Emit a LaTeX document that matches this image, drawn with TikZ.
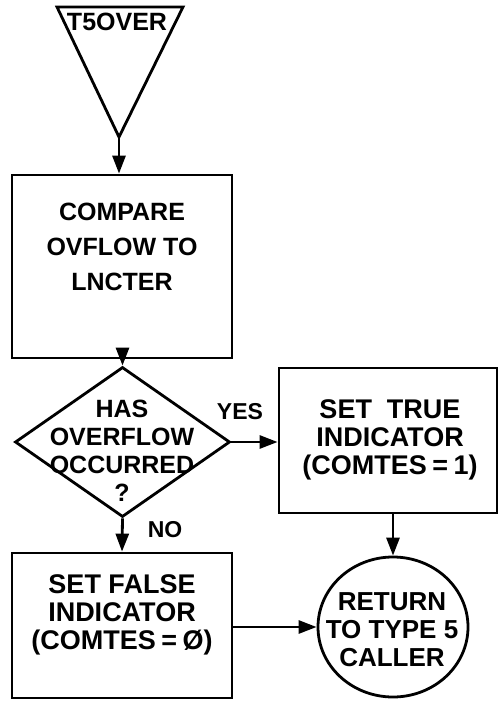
\documentclass[tikz,border=0pt]{standalone}
\usepackage{fontspec}
\setmainfont{Liberation Sans}
\usetikzlibrary{shapes.geometric,arrows.meta}
\begin{document}
\begin{tikzpicture}[x=1pt,y=-1pt,
  every node/.style={font=\bfseries\fontsize{25pt}{28pt}\selectfont, align=center},
  big/.style={font=\bfseries\fontsize{27pt}{28pt}\selectfont},
  mid/.style={font=\bfseries\fontsize{26pt}{28pt}\selectfont},
  line/.style={line width=2.8pt, draw=black},
  arr/.style={line, -{Triangle[length=18pt,width=13pt]}},
  procbox/.style={line, rectangle, minimum width=220pt, inner sep=0pt},
  lbl/.style={font=\bfseries\fontsize{23pt}{26pt}\selectfont}]
\useasboundingbox (0,0) rectangle (499,703);
% entry triangle
\coordinate (tl) at (57,7);
\coordinate (tr) at (183,7);
\coordinate (apex) at (119,137);
\draw[line, line join=miter] (tl) -- (tr) -- (apex) -- cycle;
\node (entry) at (117,22) {T5OVER};
% compare box
\node[procbox, minimum height=183pt] (cmp) at (122,266.5) {};
\node[font=\bfseries\fontsize{25pt}{35pt}\selectfont] (cmptxt) at (122,247) {COMPARE\\OVFLOW TO\\LNCTER};
\draw[arr] (apex) -- (apex |- cmp.north);
% decision
\node[diamond, line, minimum width=215pt, minimum height=150pt, inner sep=0pt] (dec) at (122.5,442) {};
\node (dectxt) at (122,451) {HAS\\OVERFLOW\\OCCURRED\\?};
\draw[arr] (cmp.south -| dec.north) -- (dec.north);
% true box
\node[procbox, minimum width=218pt, minimum height=145pt] (tru) at (388,440.5) {};
\node[big] (trutxt) at (390,439.5) {SET~~TRUE\\INDICATOR\\{\spaceskip=0.2em\relax(COMTES = 1)}};
\draw[arr] (dec.east) -- (tru.west |- dec.east);
\node[lbl] (yes) at (240,412) {YES};
% false box
\node[procbox, minimum height=145pt] (fls) at (122,625.5) {};
\node[big] (flstxt) at (122,615) {SET FALSE\\INDICATOR\\{\spaceskip=0.2em\relax(COMTES = Ø)}};
\draw[arr] (dec.south) -- (fls.north);
\node[lbl] (no) at (165,530) {NO};
% return circle
\node[ellipse, line, minimum width=150pt, minimum height=140pt, inner sep=0pt] (ret) at (393,627) {};
\node[mid] (rettxt) at (392,630) {RETURN\\TO TYPE 5\\CALLER};
\draw[arr] (ret.north |- tru.south) -- (ret.north);
\draw[arr] (fls.east |- ret.west) -- (ret.west);
\end{tikzpicture}
\end{document}
